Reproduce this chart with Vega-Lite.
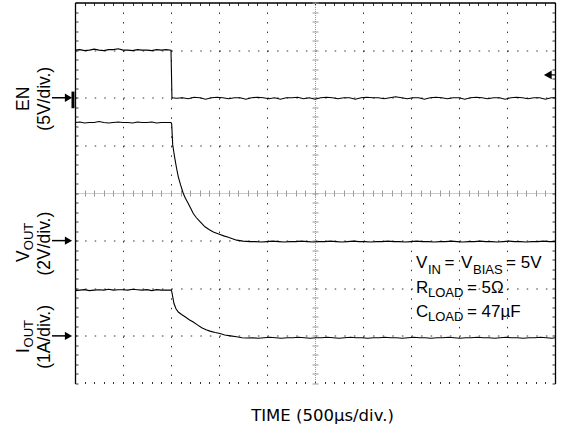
{
  "$schema": "https://vega.github.io/schema/vega-lite/v6.json",
  "width": 480,
  "height": 381,
  "autosize": "none",
  "padding": {"left": 75, "top": 2.5, "right": 7, "bottom": 47.5},
  "background": "white",
  "config": {"view": {"stroke": null}},
  "datasets": {
    "en": [
      {"t":0,"v":7.00},{"t":50,"v":7.01},{"t":100,"v":6.99},{"t":150,"v":7.00},{"t":200,"v":7.02},{"t":250,"v":7.00},{"t":300,"v":6.99},{"t":350,"v":7.01},{"t":400,"v":7.01},{"t":450,"v":7.03},{"t":500,"v":7.00},{"t":550,"v":7.00},{"t":600,"v":6.99},{"t":650,"v":7.01},{"t":700,"v":7.00},{"t":750,"v":7.00},{"t":800,"v":6.99},{"t":850,"v":7.01},{"t":900,"v":7.00},{"t":950,"v":7.01},{"t":1000,"v":7.00},
      {"t":1010,"v":6.00},{"t":1060,"v":5.99},{"t":1120,"v":6.00},{"t":1180,"v":5.98},{"t":1240,"v":6.01},{"t":1300,"v":6.00},{"t":1360,"v":5.97},{"t":1420,"v":6.00},{"t":1480,"v":6.01},{"t":1540,"v":6.00},{"t":1600,"v":5.98},{"t":1660,"v":6.00},{"t":1720,"v":6.00},{"t":1780,"v":5.97},{"t":1840,"v":6.00},{"t":1900,"v":6.01},{"t":1960,"v":6.00},{"t":2020,"v":5.98},{"t":2080,"v":6.00},{"t":2140,"v":5.97},{"t":2200,"v":6.00},{"t":2260,"v":6.00},{"t":2320,"v":6.01},{"t":2380,"v":5.98},{"t":2440,"v":6.00},{"t":2500,"v":5.97},{"t":2560,"v":6.00},{"t":2620,"v":6.01},{"t":2680,"v":6.00},{"t":2740,"v":5.98},{"t":2800,"v":6.00},{"t":2860,"v":6.00},{"t":2920,"v":5.97},{"t":2980,"v":6.00},{"t":3040,"v":6.01},{"t":3100,"v":6.00},{"t":3160,"v":6.00},{"t":3220,"v":5.98},{"t":3280,"v":6.00},{"t":3340,"v":6.02},{"t":3400,"v":6.00},{"t":3460,"v":5.98},{"t":3520,"v":6.00},{"t":3580,"v":6.00},{"t":3640,"v":5.97},{"t":3700,"v":6.00},{"t":3760,"v":6.01},{"t":3820,"v":6.00},{"t":3880,"v":5.98},{"t":3940,"v":6.00},{"t":4000,"v":6.00},{"t":4060,"v":5.97},{"t":4120,"v":6.00},{"t":4180,"v":6.01},{"t":4240,"v":6.00},{"t":4300,"v":5.98},{"t":4360,"v":6.00},{"t":4420,"v":6.00},{"t":4480,"v":5.97},{"t":4540,"v":6.00},{"t":4600,"v":6.01},{"t":4660,"v":6.00},{"t":4720,"v":5.98},{"t":4780,"v":6.00},{"t":4840,"v":6.00},{"t":4900,"v":5.97},{"t":4960,"v":6.00},{"t":5000,"v":6.00}
    ],
    "vout": [
      {"t":0,"v":5.48},{"t":50,"v":5.49},{"t":100,"v":5.47},{"t":150,"v":5.48},{"t":200,"v":5.48},{"t":250,"v":5.50},{"t":300,"v":5.48},{"t":350,"v":5.47},{"t":400,"v":5.48},{"t":450,"v":5.49},{"t":500,"v":5.48},{"t":550,"v":5.48},{"t":600,"v":5.47},{"t":650,"v":5.49},{"t":700,"v":5.48},{"t":750,"v":5.48},{"t":800,"v":5.49},{"t":850,"v":5.47},{"t":900,"v":5.48},{"t":950,"v":5.48},{"t":1000,"v":5.48},
      {"t":1007,"v":5.45},{"t":1018,"v":5.01},{"t":1030,"v":4.85},{"t":1042,"v":4.70},{"t":1058,"v":4.52},{"t":1076,"v":4.34},{"t":1100,"v":4.17},{"t":1128,"v":3.99},{"t":1150,"v":3.89},{"t":1180,"v":3.78},{"t":1205,"v":3.68},{"t":1232,"v":3.57},{"t":1265,"v":3.48},{"t":1302,"v":3.40},{"t":1354,"v":3.29},{"t":1400,"v":3.23},{"t":1441,"v":3.18},{"t":1510,"v":3.13},{"t":1550,"v":3.10},{"t":1597,"v":3.07},{"t":1640,"v":3.04},{"t":1684,"v":3.01},{"t":1750,"v":2.99},{"t":1823,"v":2.98},
      {"t":1880,"v":2.98},{"t":1940,"v":2.97},{"t":2000,"v":2.98},{"t":2060,"v":2.99},{"t":2120,"v":2.98},{"t":2180,"v":2.97},{"t":2240,"v":2.98},{"t":2300,"v":2.98},{"t":2360,"v":2.99},{"t":2420,"v":2.98},{"t":2480,"v":2.97},{"t":2540,"v":2.98},{"t":2600,"v":2.98},{"t":2660,"v":2.99},{"t":2720,"v":2.98},{"t":2780,"v":2.97},{"t":2840,"v":2.98},{"t":2900,"v":2.99},{"t":2960,"v":2.98},{"t":3020,"v":2.98},{"t":3080,"v":2.97},{"t":3140,"v":2.98},{"t":3200,"v":2.98},{"t":3260,"v":2.99},{"t":3320,"v":2.98},{"t":3380,"v":2.98},{"t":3440,"v":2.97},{"t":3500,"v":2.98},{"t":3560,"v":2.99},{"t":3620,"v":2.98},{"t":3680,"v":2.98},{"t":3740,"v":2.97},{"t":3800,"v":2.98},{"t":3860,"v":2.98},{"t":3920,"v":2.99},{"t":3980,"v":2.98},{"t":4040,"v":2.97},{"t":4100,"v":2.98},{"t":4160,"v":2.98},{"t":4220,"v":2.99},{"t":4280,"v":2.98},{"t":4340,"v":2.98},{"t":4400,"v":2.97},{"t":4460,"v":2.98},{"t":4520,"v":2.99},{"t":4580,"v":2.98},{"t":4640,"v":2.98},{"t":4700,"v":2.97},{"t":4760,"v":2.98},{"t":4820,"v":2.98},{"t":4880,"v":2.99},{"t":4940,"v":2.98},{"t":5000,"v":2.98}
    ],
    "iout": [
      {"t":0,"v":1.95},{"t":50,"v":1.96},{"t":100,"v":1.97},{"t":150,"v":1.95},{"t":200,"v":1.96},{"t":250,"v":1.97},{"t":300,"v":1.96},{"t":350,"v":1.98},{"t":400,"v":1.96},{"t":450,"v":1.97},{"t":500,"v":1.97},{"t":550,"v":1.96},{"t":600,"v":1.98},{"t":650,"v":1.97},{"t":700,"v":1.96},{"t":750,"v":1.97},{"t":800,"v":1.95},{"t":850,"v":1.97},{"t":900,"v":1.96},{"t":950,"v":1.96},{"t":1000,"v":1.96},
      {"t":1007,"v":1.94},{"t":1020,"v":1.80},{"t":1031,"v":1.68},{"t":1052,"v":1.57},{"t":1076,"v":1.50},{"t":1110,"v":1.45},{"t":1146,"v":1.40},{"t":1190,"v":1.34},{"t":1232,"v":1.29},{"t":1275,"v":1.23},{"t":1320,"v":1.17},{"t":1365,"v":1.13},{"t":1406,"v":1.10},{"t":1460,"v":1.07},{"t":1510,"v":1.05},{"t":1560,"v":1.02},{"t":1620,"v":1.00},{"t":1684,"v":0.98},{"t":1740,"v":0.96},{"t":1789,"v":0.955},
      {"t":1850,"v":0.96},{"t":1910,"v":0.95},{"t":1970,"v":0.96},{"t":2030,"v":0.97},{"t":2090,"v":0.96},{"t":2150,"v":0.95},{"t":2210,"v":0.96},{"t":2270,"v":0.96},{"t":2330,"v":0.97},{"t":2390,"v":0.96},{"t":2450,"v":0.95},{"t":2510,"v":0.96},{"t":2570,"v":0.96},{"t":2630,"v":0.97},{"t":2690,"v":0.96},{"t":2750,"v":0.95},{"t":2810,"v":0.96},{"t":2870,"v":0.97},{"t":2930,"v":0.96},{"t":2990,"v":0.96},{"t":3050,"v":0.95},{"t":3110,"v":0.96},{"t":3170,"v":0.96},{"t":3230,"v":0.97},{"t":3290,"v":0.96},{"t":3350,"v":0.96},{"t":3410,"v":0.95},{"t":3470,"v":0.96},{"t":3530,"v":0.97},{"t":3590,"v":0.96},{"t":3650,"v":0.96},{"t":3710,"v":0.95},{"t":3770,"v":0.96},{"t":3830,"v":0.96},{"t":3890,"v":0.97},{"t":3950,"v":0.96},{"t":4010,"v":0.95},{"t":4070,"v":0.96},{"t":4130,"v":0.96},{"t":4190,"v":0.97},{"t":4250,"v":0.96},{"t":4310,"v":0.96},{"t":4370,"v":0.95},{"t":4430,"v":0.96},{"t":4490,"v":0.97},{"t":4550,"v":0.96},{"t":4610,"v":0.96},{"t":4670,"v":0.95},{"t":4730,"v":0.96},{"t":4790,"v":0.96},{"t":4850,"v":0.97},{"t":4910,"v":0.96},{"t":4970,"v":0.95},{"t":5000,"v":0.96}
    ],
    "grounds": [{"ch":"EN","v":6},{"ch":"VOUT","v":3},{"ch":"IOUT","v":1}],
    "trigger": [{"v":6.48}],
    "labC": [
      {"t":-474,"v":5.979,"label":"EN"},
      {"t":-260,"v":5.979,"label":"(5V/div.)"},
      {"t":-260,"v":2.937,"label":"(2V/div.)"},
      {"t":-260,"v":0.979,"label":"(1A/div.)"}
    ],
    "labL": [
      {"t":-474,"v":2.55,"label":"V"},
      {"t":-474,"v":0.64,"label":"I"}
    ],
    "labS": [
      {"t":-437,"v":2.8,"label":"OUT"},
      {"t":-437,"v":0.758,"label":"OUT"}
    ],
    "annM": [
      {"t":3552,"v":2.421,"label":"V"},
      {"t":3850,"v":2.421,"label":"="},
      {"t":4021,"v":2.421,"label":"V"},
      {"t":4490,"v":2.421,"label":"= 5V"},
      {"t":3552,"v":1.895,"label":"R"},
      {"t":4083,"v":1.895,"label":"= 5Ω"},
      {"t":3552,"v":1.389,"label":"C"},
      {"t":4083,"v":1.389,"label":"= 47µF"}
    ],
    "annS": [
      {"t":3677,"v":2.295,"label":"IN"},
      {"t":4146,"v":2.295,"label":"BIAS"},
      {"t":3677,"v":1.81,"label":"LOAD"},
      {"t":3677,"v":1.305,"label":"LOAD"}
    ],
    "xtitle": [{"t":2578,"v":-0.779,"label":"TIME (500µs/div.)"}]
  },
  "layer": [
    {
      "data": {"name": "en"},
      "mark": {"type": "line", "color": "black", "strokeWidth": 1.1},
      "encoding": {
        "x": {"field": "t", "type": "quantitative", "scale": {"domain": [0, 5000], "nice": false, "zero": false},
          "axis": {"orient": "bottom", "values": [500,1000,1500,2000,3000,3500,4000,4500], "grid": true, "gridDash": [1.5, 8.025], "gridColor": "#333", "gridOpacity": 1, "gridWidth": 1, "domain": false, "ticks": false, "labels": false, "title": null}},
        "y": {"field": "v", "type": "quantitative", "scale": {"domain": [0, 8], "nice": false, "zero": false},
          "axis": {"orient": "left", "values": [1,2,3,5,6,7], "grid": true, "gridDash": [1.5, 8.1], "gridColor": "#333", "gridOpacity": 1, "gridWidth": 1, "domain": true, "domainColor": "black", "domainWidth": 1.3, "ticks": false, "labels": false, "title": null}}
      }
    },
    {
      "data": {"name": "vout"},
      "mark": {"type": "line", "color": "black", "strokeWidth": 1.1},
      "encoding": {
        "x": {"field": "t", "type": "quantitative",
          "axis": {"orient": "top", "values": [0,100,200,300,400,500,600,700,800,900,1000,1100,1200,1300,1400,1500,1600,1700,1800,1900,2000,2100,2200,2300,2400,2500,2600,2700,2800,2900,3000,3100,3200,3300,3400,3500,3600,3700,3800,3900,4000,4100,4200,4300,4400,4500,4600,4700,4800,4900,5000], "grid": false, "domain": true, "domainColor": "black", "domainWidth": 1.3, "ticks": true, "tickSize": -3, "tickColor": "#333", "tickWidth": 1, "labels": false, "title": null}},
        "y": {"field": "v", "type": "quantitative",
          "axis": {"orient": "right", "values": [0,0.2,0.4,0.6,0.8,1,1.2,1.4,1.6,1.8,2,2.2,2.4,2.6,2.8,3,3.2,3.4,3.6,3.8,4,4.2,4.4,4.6,4.8,5,5.2,5.4,5.6,5.8,6,6.2,6.4,6.6,6.8,7,7.2,7.4,7.6,7.8,8], "grid": false, "domain": true, "domainColor": "black", "domainWidth": 1.3, "ticks": true, "tickSize": -3, "tickColor": "#333", "tickWidth": 1, "labels": false, "title": null}}
      }
    },
    {
      "data": {"name": "iout"},
      "mark": {"type": "line", "color": "black", "strokeWidth": 1.1},
      "encoding": {
        "x": {"field": "t", "type": "quantitative",
          "axis": {"orient": "bottom", "values": [0,100,200,300,400,500,600,700,800,900,1000,1100,1200,1300,1400,1500,1600,1700,1800,1900,2000,2100,2200,2300,2400,2500,2600,2700,2800,2900,3000,3100,3200,3300,3400,3500,3600,3700,3800,3900,4000,4100,4200,4300,4400,4500,4600,4700,4800,4900,5000], "grid": false, "domain": false, "ticks": true, "tickSize": -2, "tickColor": "#333", "tickWidth": 1, "labels": false, "title": null}},
        "y": {"field": "v", "type": "quantitative",
          "axis": {"orient": "left", "values": [0,0.2,0.4,0.6,0.8,1,1.2,1.4,1.6,1.8,2,2.2,2.4,2.6,2.8,3,3.2,3.4,3.6,3.8,4,4.2,4.4,4.6,4.8,5,5.2,5.4,5.6,5.8,6,6.2,6.4,6.6,6.8,7,7.2,7.4,7.6,7.8,8], "grid": false, "domain": false, "ticks": true, "tickSize": -3, "tickColor": "#333", "tickWidth": 1, "labels": false, "title": null}}
      }
    },
    {
      "data": {"name": "grounds"},
      "mark": {"type": "rule", "color": "black", "strokeWidth": 1.5},
      "encoding": {
        "x": {"datum": -240, "type": "quantitative",
          "axis": {"orient": "top", "offset": -190.5, "values": [0,100,200,300,400,500,600,700,800,900,1000,1100,1200,1300,1400,1500,1600,1700,1800,1900,2000,2100,2200,2300,2400,2500,2600,2700,2800,2900,3000,3100,3200,3300,3400,3500,3600,3700,3800,3900,4000,4100,4200,4300,4400,4500,4600,4700,4800,4900,5000], "grid": false, "domain": true, "domainColor": "#999", "domainDash": [1, 1], "domainWidth": 1, "ticks": true, "tickSize": 3, "tickColor": "#999", "tickWidth": 1, "labels": false, "title": null}},
        "x2": {"datum": -104},
        "y": {"field": "v", "type": "quantitative",
          "axis": {"orient": "left", "offset": -240, "values": [0,0.2,0.4,0.6,0.8,1,1.2,1.4,1.6,1.8,2,2.2,2.4,2.6,2.8,3,3.2,3.4,3.6,3.8,4,4.2,4.4,4.6,4.8,5,5.2,5.4,5.6,5.8,6,6.2,6.4,6.6,6.8,7,7.2,7.4,7.6,7.8,8], "grid": false, "domain": true, "domainColor": "#999", "domainDash": [1, 1], "domainWidth": 1, "ticks": true, "tickSize": 3, "tickColor": "#999", "tickWidth": 1, "labels": false, "title": null}}
      }
    },
    {
      "data": {"name": "grounds"},
      "mark": {"type": "point", "shape": "triangle-right", "filled": true, "color": "black", "size": 70, "opacity": 1},
      "encoding": {
        "x": {"datum": -68, "type": "quantitative",
          "axis": {"orient": "bottom", "offset": -190.5, "values": [0,100,200,300,400,500,600,700,800,900,1000,1100,1200,1300,1400,1500,1600,1700,1800,1900,2000,2100,2200,2300,2400,2500,2600,2700,2800,2900,3000,3100,3200,3300,3400,3500,3600,3700,3800,3900,4000,4100,4200,4300,4400,4500,4600,4700,4800,4900,5000], "grid": false, "domain": false, "ticks": true, "tickSize": 3, "tickColor": "#999", "tickWidth": 1, "labels": false, "title": null}},
        "y": {"field": "v", "type": "quantitative",
          "axis": {"orient": "right", "offset": -240, "values": [0,0.2,0.4,0.6,0.8,1,1.2,1.4,1.6,1.8,2,2.2,2.4,2.6,2.8,3,3.2,3.4,3.6,3.8,4,4.2,4.4,4.6,4.8,5,5.2,5.4,5.6,5.8,6,6.2,6.4,6.6,6.8,7,7.2,7.4,7.6,7.8,8], "grid": false, "domain": false, "ticks": true, "tickSize": 3, "tickColor": "#999", "tickWidth": 1, "labels": false, "title": null}}
      }
    },
    {
      "data": {"name": "grounds"},
      "transform": [{"filter": "datum.ch == 'EN'"}],
      "mark": {"type": "rule", "color": "black", "strokeWidth": 3},
      "encoding": {
        "x": {"datum": -21, "type": "quantitative", "axis": null},
        "y": {"datum": 5.78, "type": "quantitative", "axis": null},
        "y2": {"datum": 6.13}
      }
    },
    {
      "data": {"name": "trigger"},
      "mark": {"type": "point", "shape": "triangle-left", "filled": true, "color": "black", "size": 80, "opacity": 1},
      "encoding": {
        "x": {"datum": 4925, "type": "quantitative", "axis": null},
        "y": {"field": "v", "type": "quantitative", "axis": null}
      }
    },
    {
      "data": {"name": "trigger"},
      "mark": {"type": "rule", "color": "black", "strokeWidth": 1.2},
      "encoding": {
        "x": {"datum": 4940, "type": "quantitative", "axis": null},
        "x2": {"datum": 5010},
        "y": {"field": "v", "type": "quantitative", "axis": null}
      }
    },
    {
      "data": {"name": "labC"},
      "mark": {"type": "text", "angle": 270, "align": "center", "baseline": "alphabetic", "font": "Liberation Sans", "fontSize": 17.5, "color": "black"},
      "encoding": {
        "x": {"field": "t", "type": "quantitative", "axis": null},
        "y": {"field": "v", "type": "quantitative", "axis": null},
        "text": {"field": "label"}
      }
    },
    {
      "data": {"name": "labL"},
      "mark": {"type": "text", "angle": 270, "align": "left", "baseline": "alphabetic", "font": "Liberation Sans", "fontSize": 17.5, "color": "black"},
      "encoding": {
        "x": {"field": "t", "type": "quantitative", "axis": null},
        "y": {"field": "v", "type": "quantitative", "axis": null},
        "text": {"field": "label"}
      }
    },
    {
      "data": {"name": "labS"},
      "mark": {"type": "text", "angle": 270, "align": "left", "baseline": "alphabetic", "font": "Liberation Sans", "fontSize": 13, "color": "black"},
      "encoding": {
        "x": {"field": "t", "type": "quantitative", "axis": null},
        "y": {"field": "v", "type": "quantitative", "axis": null},
        "text": {"field": "label"}
      }
    },
    {
      "data": {"name": "annM"},
      "mark": {"type": "text", "align": "left", "baseline": "alphabetic", "font": "Liberation Sans", "fontSize": 17, "color": "black"},
      "encoding": {
        "x": {"field": "t", "type": "quantitative", "axis": null},
        "y": {"field": "v", "type": "quantitative", "axis": null},
        "text": {"field": "label"}
      }
    },
    {
      "data": {"name": "annS"},
      "mark": {"type": "text", "align": "left", "baseline": "alphabetic", "font": "Liberation Sans", "fontSize": 13, "color": "black"},
      "encoding": {
        "x": {"field": "t", "type": "quantitative", "axis": null},
        "y": {"field": "v", "type": "quantitative", "axis": null},
        "text": {"field": "label"}
      }
    },
    {
      "data": {"name": "xtitle"},
      "mark": {"type": "text", "align": "center", "baseline": "alphabetic", "font": "DejaVu Sans", "fontSize": 16.5, "color": "black"},
      "encoding": {
        "x": {"field": "t", "type": "quantitative", "axis": null},
        "y": {"field": "v", "type": "quantitative", "axis": null},
        "text": {"field": "label"}
      }
    }
  ],
  "resolve": {"axis": {"x": "independent", "y": "independent"}}
}
